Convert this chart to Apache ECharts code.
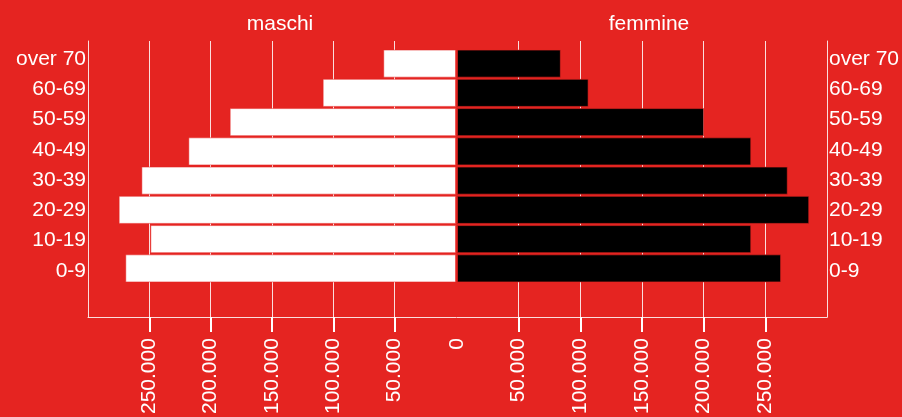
<!DOCTYPE html>
<html>
<head>
<meta charset="utf-8">
<script src="https://cdn.jsdelivr.net/npm/echarts@6/dist/echarts.min.js"></script>
<style>
  html, body { margin: 0; padding: 0; background: #e52421; }
  #chart { width: 902px; height: 417px; }
</style>
</head>
<body>
<div id="chart"></div>
<script>
// age groups, bottom to top
const categories = ['0-9', '10-19', '20-29', '30-39', '40-49', '50-59', '60-69', 'over 70'];
const maschi = [269600, 249200, 275000, 256500, 218200, 184500, 108700, 59300];
const femmine = [262800, 238600, 285600, 268200, 238600, 200300, 106700, 84200];
const tickValues = [50000, 100000, 150000, 200000, 250000];
const axisMax = 300000;

const red = '#e52421';
const lineColor = 'rgba(255,255,255,0.85)';
const fontFamily = '"Liberation Sans", Arial, sans-serif';
const fontSize = 21;

function fmt(v) {
  return String(v).replace(/\B(?=(\d{3})+(?!\d))/g, '.');
}

const chart = echarts.init(document.getElementById('chart'));

function frameX(gridIndex, inverse, labelValues) {
  return {
    type: 'value', gridIndex, min: 0, max: axisMax, interval: 50000, inverse,
    axisLine: { show: true, onZero: false, lineStyle: { color: lineColor, width: 1 } },
    axisTick: { show: true, length: 15, customValues: tickValues, lineStyle: { color: '#fff', width: 2 } },
    axisLabel: {
      show: true, rotate: 90, margin: 21, customValues: labelValues,
      color: '#fff', fontSize, fontFamily, formatter: fmt,
    },
    splitLine: { show: true, lineStyle: { color: lineColor, width: 1 } },
  };
}

function hiddenX(gridIndex, inverse) {
  return { type: 'value', gridIndex, min: 0, max: axisMax, inverse, show: false, splitLine: { show: false } };
}

function frameY(gridIndex, position) {
  return {
    type: 'value', gridIndex, position, min: 0, max: 1,
    axisLine: { show: true, onZero: false, lineStyle: { color: lineColor, width: 1 } },
    axisTick: { show: false }, axisLabel: { show: false }, splitLine: { show: false },
  };
}

// bars only, no visible axis
function barY(gridIndex) {
  return { type: 'category', gridIndex, data: categories, show: false };
}

// labels sit on a slightly wider pitch than the bars
function labelY(gridIndex, position) {
  return {
    type: 'category', gridIndex, position, data: categories,
    axisLine: { show: false }, axisTick: { show: false },
    axisLabel: { color: '#fff', fontSize, fontFamily, margin: 2 },
  };
}

chart.setOption({
  backgroundColor: red,
  animation: false,
  title: [
    { text: 'maschi', left: 275, top: 9, textAlign: 'center',
      textStyle: { color: '#fff', fontSize, fontWeight: 'normal', fontFamily } },
    { text: 'femmine', left: 644, top: 9, textAlign: 'center',
      textStyle: { color: '#fff', fontSize, fontWeight: 'normal', fontFamily } },
  ],
  grid: [
    { left: 88, top: 41, width: 368, height: 277 },
    { left: 457, top: 41, width: 370, height: 277 },
    { left: 88, top: 49, width: 368, height: 234 },
    { left: 457, top: 49, width: 370, height: 234 },
    { left: 88, top: 44, width: 368, height: 242 },
    { left: 457, top: 44, width: 370, height: 242 },
  ],
  xAxis: [
    frameX(0, true, tickValues),
    frameX(1, false, [0].concat(tickValues)),
    hiddenX(2, true),
    hiddenX(3, false),
    hiddenX(4, true),
    hiddenX(5, false),
  ],
  yAxis: [
    frameY(0, 'left'),
    frameY(1, 'right'),
    barY(2),
    barY(3),
    labelY(4, 'left'),
    labelY(5, 'right'),
  ],
  series: [
    {
      name: 'maschi', type: 'bar', xAxisIndex: 2, yAxisIndex: 2, data: maschi,
      barCategoryGap: '4%',
      itemStyle: { color: '#fff', borderColor: 'rgba(229,36,33,0.5)', borderWidth: 1 },
    },
    {
      name: 'femmine', type: 'bar', xAxisIndex: 3, yAxisIndex: 3, data: femmine,
      barCategoryGap: '4%',
      itemStyle: { color: '#000', borderColor: 'rgba(229,36,33,0.6)', borderWidth: 1 },
    },
  ],
});
</script>
</body>
</html>
